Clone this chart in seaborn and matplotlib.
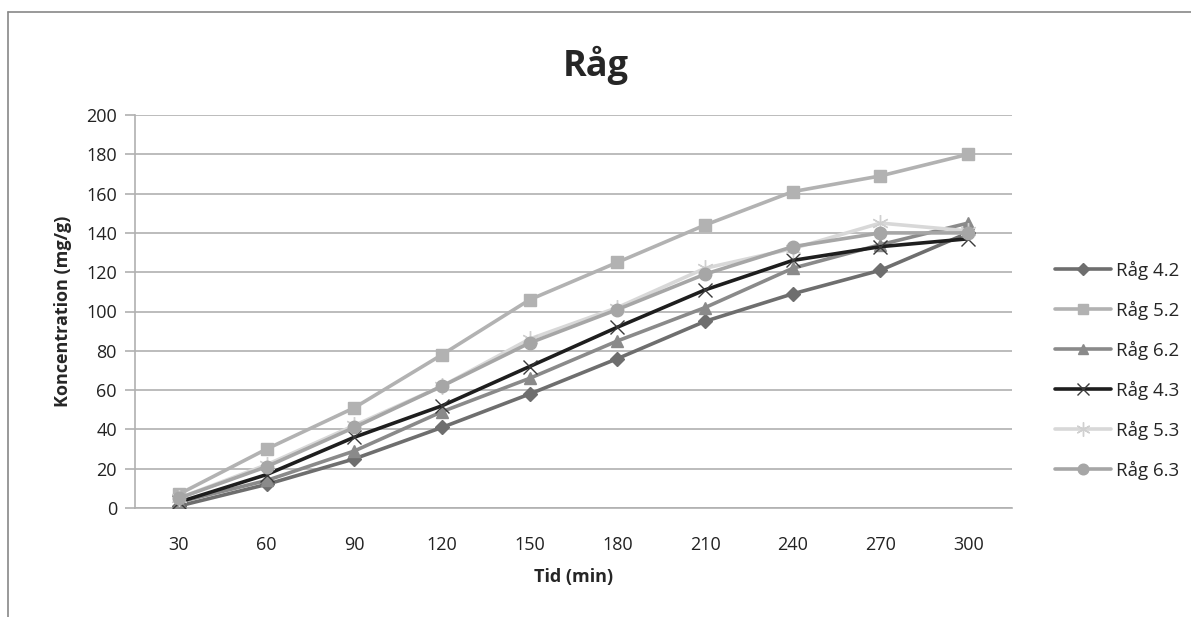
import matplotlib
matplotlib.use("Agg")
import matplotlib.pyplot as plt
from matplotlib.lines import Line2D
import seaborn as sns
import pandas as pd

times = [30, 60, 90, 120, 150, 180, 210, 240, 270, 300]
rag_42 = [1, 12, 25, 41, 58, 76, 95, 109, 121, 140]
rag_52 = [7, 30, 51, 78, 106, 125, 144, 161, 169, 180]
rag_62 = [3, 14, 29, 49, 66, 85, 102, 122, 134, 145]
rag_43 = [3, 17, 36, 52, 72, 92, 111, 126, 133, 137]
rag_53 = [5, 22, 42, 62, 86, 102, 122, 132, 145, 141]
rag_63 = [5, 21, 41, 62, 84, 101, 119, 133, 140, 140]
series_names = ["Råg 4.2", "Råg 5.2", "Råg 6.2", "Råg 4.3", "Råg 5.3", "Råg 6.3"]
series_values = [rag_42, rag_52, rag_62, rag_43, rag_53, rag_63]
y_ticks = [0, 20, 40, 60, 80, 100, 120, 140, 160, 180, 200]

styles = {
    "Råg 4.2": dict(color="#6e6e6e", marker="D", ms=7, mfc="#6e6e6e", mec="#6e6e6e", mew=1),
    "Råg 5.2": dict(color="#b2b2b2", marker="s", ms=8, mfc="#b2b2b2", mec="#b2b2b2", mew=1),
    "Råg 6.2": dict(color="#8a8a8a", marker="^", ms=9, mfc="#8a8a8a", mec="#8a8a8a", mew=1),
    "Råg 4.3": dict(color="#1e1e1e", marker="x", ms=10, mfc="#1e1e1e", mec="#3a3a3a", mew=1),
    "Råg 5.3": dict(color="#d8d8d8", marker=(6, 2, 0), ms=12, mfc="#d0d0d0", mec="#d0d0d0", mew=1),
    "Råg 6.3": dict(color="#a6a6a6", marker="o", ms=9, mfc="#a6a6a6", mec="#a6a6a6", mew=1),
}

sns.set_theme(style="white")
plt.rcParams["font.family"] = ["Open Sans", "DejaVu Sans"]

fig = plt.figure(figsize=(11.91, 6.17), dpi=100)
ax = fig.add_axes([135 / 1191, 1 - 508 / 617, (1012 - 135) / 1191, (508 - 115) / 617])

df = pd.DataFrame({"Tid": times * len(series_names),
                   "Konc": [v for vals in series_values for v in vals],
                   "Serie": [n for n in series_names for _ in times]})

handles = []
for name in series_names:
    st = styles[name]
    sub = df[df["Serie"] == name]
    sns.lineplot(data=sub, x="Tid", y="Konc", ax=ax, color=st["color"], lw=2.6,
                 marker=st["marker"], markersize=st["ms"], markerfacecolor=st["mfc"],
                 markeredgecolor=st["mec"], markeredgewidth=st["mew"], legend=False, zorder=3)
    handles.append(Line2D([0], [0], color=st["color"], lw=2.6, marker=st["marker"],
                          markersize=st["ms"] * 0.85, markerfacecolor=st["mfc"],
                          markeredgecolor=st["mec"], markeredgewidth=st["mew"]))

ax.set_xlim(15, 315)
ax.set_ylim(0, 200)
ax.set_xticks(times)
ax.set_xticklabels([str(t) for t in times])
ax.set_yticks(y_ticks)
ax.yaxis.grid(True, color="#b0b0b0", lw=1.2)
ax.set_axisbelow(True)
for s in ["top", "right"]:
    ax.spines[s].set_visible(False)
ax.spines["left"].set_color("#b0b0b0")
ax.spines["left"].set_linewidth(1.2)
ax.spines["bottom"].set_color("#b0b0b0")
ax.spines["bottom"].set_linewidth(1.2)
ax.tick_params(axis="y", which="major", left=True, length=7, width=1.2, color="#b0b0b0",
               labelsize=13, labelcolor="#222222", pad=6)
ax.tick_params(axis="x", which="major", bottom=False, labelsize=13, labelcolor="#222222", pad=14)

ax.set_xlabel("Tid (min)", fontsize=13, fontweight="bold", labelpad=10)
ax.set_ylabel("Koncentration (mg/g)", fontsize=13, fontweight="bold", labelpad=10)
fig.text(0.5, 1 - 65 / 617, "Råg", ha="center", va="center", fontsize=26, fontweight="bold")

leg = ax.legend(handles, series_names, loc="center left", bbox_to_anchor=(1.03, 0.35),
                frameon=False, fontsize=13.5, handlelength=3.0, labelspacing=1.12,
                handletextpad=0.25)

fig.add_artist(Line2D([8 / 1191, 1.0], [1 - 12 / 617, 1 - 12 / 617], transform=fig.transFigure,
                      color="#888888", lw=1.2))
fig.add_artist(Line2D([8 / 1191, 8 / 1191], [0.0, 1 - 12 / 617], transform=fig.transFigure,
                      color="#888888", lw=1.2))

fig.savefig("out.png", dpi=100, facecolor="white")
